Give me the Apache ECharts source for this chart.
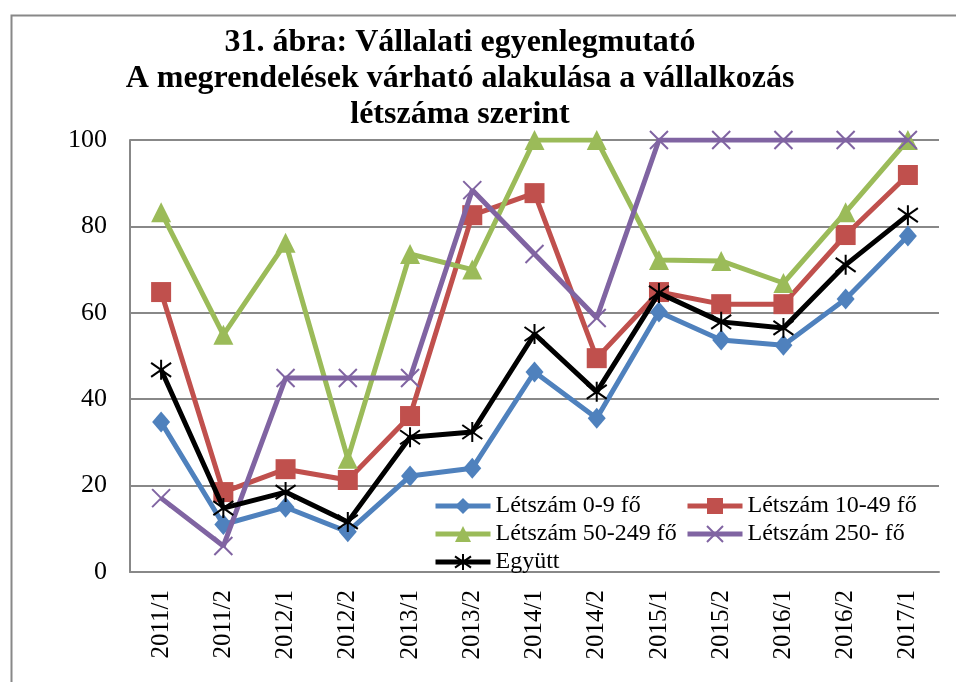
<!DOCTYPE html>
<html>
<head>
<meta charset="utf-8">
<script src="https://cdn.jsdelivr.net/npm/echarts@6/dist/echarts.min.js"></script>
<style>
  html, body { margin: 0; padding: 0; background: #fff; }
  #chart { width: 956px; height: 682px; }
</style>
</head>
<body>
<div id="chart"></div>
<script>
// félévek
var categories = ['2011/1', '2011/2', '2012/1', '2012/2', '2013/1', '2013/2', '2014/1',
  '2014/2', '2015/1', '2015/2', '2016/1', '2016/2', '2017/1']
var seriesNames = ['Létszám 0-9 fő', 'Létszám 10-49 fő', 'Létszám 50-249 fő', 'Létszám 250- fő', 'Együtt']
var yTicks = [0, 20, 40, 60, 80, 100]

var s0_9 = [34.7, 11, 15, 9.3, 22.2, 24, 46.3, 35.6, 60.2, 53.7, 52.5, 63.2, 77.8]
var s10_49 = [64.8, 18.5, 23.8, 21.3, 36.1, 82.6, 87.7, 49.5, 64.8, 62, 62, 78, 91.9]
var s50_249 = [83.3, 54.9, 76.2, 26.2, 73.6, 70, 100, 100, 72.2, 72, 66.9, 83.3, 100]
var s250 = [17.1, 6, 44.9, 44.9, 44.9, 88.4, 73.6, 58.8, 100, 100, 100, 100, 100]
var egyutt = [46.8, 14.8, 18.5, 11.6, 31.2, 32.4, 55.1, 41.7, 64.6, 57.9, 56.5, 71.1, 82.6]

var font = '"Liberation Serif", "DejaVu Serif", serif'
var colors = ['#4F81BD', '#C0504D', '#9BBB59', '#8064A2', '#000000']

var crossPath = 'path://M0,0L10,10M10,0L0,10'
var starPath = 'path://M5,0L5,10M0,1.5L10,8.5M10,1.5L0,8.5'

function lineSeries(i, data, symbol, size, stroke) {
  var item = { color: colors[i] }
  if (stroke) {
    item.borderColor = colors[i]
    item.borderWidth = 2
  }
  return {
    name: seriesNames[i],
    type: 'line',
    data: data,
    symbol: symbol,
    symbolSize: size,
    lineStyle: { color: colors[i], width: 5 },
    itemStyle: item,
    z: 2 + i,
    animation: false
  }
}

var myChart = echarts.init(document.getElementById('chart'))

var legendText = { fontFamily: font, fontSize: 24, color: '#000' }

function legendBox(names, left) {
  return {
    data: names,
    orient: 'vertical',
    left: left,
    top: 494,
    padding: 0,
    itemWidth: 55,
    itemHeight: 20,
    itemGap: 4,
    lineStyle: { width: 5 },
    textStyle: legendText
  }
}

var option = {
  backgroundColor: '#fff',
  title: {
    text: '31. ábra: Vállalati egyenlegmutató\nA megrendelések várható alakulása a vállalkozás\nlétszáma szerint',
    left: 460,
    top: 25,
    padding: 0,
    textAlign: 'center',
    textStyle: {
      fontFamily: font,
      fontWeight: 'bold',
      fontSize: 32,
      lineHeight: 36,
      color: '#000'
    }
  },
  graphic: [{
    type: 'rect',
    left: 9,
    top: 13,
    shape: { width: 980, height: 720 },
    style: { fill: 'none', stroke: '#888', lineWidth: 2 },
    silent: true,
    z: -1
  }],
  legend: [
    legendBox([seriesNames[0], seriesNames[2], seriesNames[4]], 433),
    legendBox([seriesNames[1], seriesNames[3]], 685)
  ],
  grid: {
    left: 130,
    right: 17,
    top: 140,
    bottom: 110
  },
  xAxis: {
    type: 'category',
    data: categories,
    boundaryGap: true,
    axisLine: { lineStyle: { color: '#888', width: 2 } },
    axisTick: { show: false },
    axisLabel: {
      rotate: 90,
      margin: 18,
      fontFamily: font,
      fontSize: 25,
      color: '#000'
    }
  },
  yAxis: {
    type: 'value',
    min: yTicks[0],
    max: yTicks[yTicks.length - 1],
    interval: 20,
    axisLine: { show: true, lineStyle: { color: '#888', width: 2 } },
    axisTick: { show: false },
    splitLine: { lineStyle: { color: '#888', width: 2 } },
    axisLabel: {
      margin: 23,
      fontFamily: font,
      fontSize: 26,
      color: '#000'
    }
  },
  series: [
    lineSeries(0, s0_9, 'diamond', [18, 21], false),
    lineSeries(1, s10_49, 'rect', 20, false),
    lineSeries(2, s50_249, 'triangle', 20, false),
    lineSeries(3, s250, crossPath, 18, true),
    lineSeries(4, egyutt, starPath, 20, true)
  ]
}

myChart.setOption(option)
</script>
</body>
</html>
